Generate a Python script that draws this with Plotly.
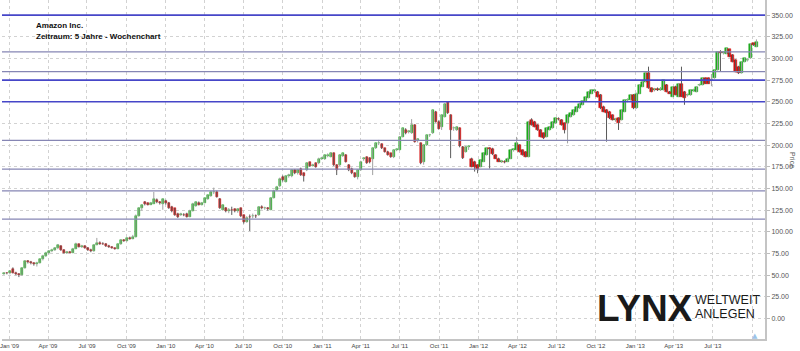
import plotly.graph_objects as go
import pandas as pd

# Weekly candles (Friday dates), Amazon Inc., Dec 2008 - Oct 2013
start_date = "2008-12-19"

opens = [
    51.5, 52.5, 52.0, 57.5, 53.0, 51.5, 50.0, 58.0, 66.0, 65.5,
    64.0, 62.5, 64.5, 68.5, 72.0, 75.5, 78.0, 79.5, 81.0, 84.0,
    79.0, 76.0, 77.0, 76.0, 80.5, 86.0, 83.0, 83.5, 81.5, 79.0,
    77.5, 85.0, 87.5, 86.5, 86.5, 83.5, 82.5, 81.5, 80.5, 85.5,
    90.5, 89.5, 92.5, 92.0, 94.5, 118.5, 127.0, 134.5, 133.5, 131.5,
    132.5, 137.0, 134.0, 132.0, 136.0, 133.5, 129.0, 127.0, 121.0, 120.0,
    120.0, 121.0, 117.5, 124.0, 130.0, 133.5, 131.5, 133.5, 138.0, 141.0,
    145.5, 146.0, 138.0, 125.5, 127.0, 124.5, 125.5, 126.0, 123.5, 127.0,
    119.0, 111.5, 117.5, 118.0, 118.5, 119.0, 129.0, 127.5, 127.0, 125.5,
    139.0, 148.0, 152.5, 163.5, 158.0, 164.0, 164.0, 171.0, 167.5, 173.0,
    167.5, 171.0, 180.0, 176.5, 179.0, 179.0, 184.5, 184.0, 187.0, 186.5,
    190.5, 177.0, 177.0, 187.5, 188.5, 177.0, 173.0, 167.5, 163.5, 171.0,
    184.5, 186.0, 185.0, 184.5, 196.5, 202.0, 201.0, 196.5, 192.5, 190.5,
    186.0, 194.5, 194.5, 209.5, 218.0, 215.5, 213.5, 223.0, 206.0, 202.0,
    181.0, 200.0, 211.5, 213.5, 238.5, 227.0, 221.0, 233.0, 250.0, 234.5,
    219.5, 217.5, 219.5, 198.0, 192.5, 198.0, 184.5, 181.0, 177.0, 175.0,
    181.0, 188.5, 196.5, 196.0, 188.5, 184.5, 181.0, 181.0, 181.0, 184.5,
    194.5, 194.5, 200.0, 194.5, 192.5, 186.5, 229.0, 227.0, 223.0, 217.5,
    213.5, 209.5, 217.5, 219.5, 225.0, 230.5, 229.0, 225.0, 225.0, 233.0,
    234.5, 238.5, 242.5, 246.5, 251.0, 254.5, 259.5, 262.5, 261.5, 258.0,
    244.5, 240.5, 238.5, 234.5, 229.0, 231.0, 229.0, 238.5, 252.0, 252.0,
    258.0, 242.5, 259.5, 267.5, 273.0, 283.0, 265.5, 264.0, 264.5, 264.0,
    263.5, 269.5, 261.5, 256.0, 267.5, 256.0, 271.0, 261.5, 257.5, 257.5,
    263.0, 261.5, 269.0, 269.5, 277.0, 277.0, 275.0, 277.0, 286.5, 308.0,
    306.5, 305.5, 310.5, 304.0, 298.0, 290.5, 283.0, 296.0, 298.0, 300.0,
    317.5, 313.5,
]

highs = [
    53.5, 53.5, 55.5, 59.0, 54.0, 52.5, 59.0, 67.5, 67.5, 66.5,
    65.0, 65.5, 69.0, 73.5, 77.0, 79.0, 80.5, 82.5, 86.0, 84.5,
    80.0, 78.0, 78.0, 81.5, 87.5, 86.5, 85.0, 84.5, 82.5, 80.5,
    86.0, 93.0, 89.0, 88.0, 87.0, 85.0, 83.5, 82.0, 86.5, 91.5,
    91.5, 93.5, 94.5, 96.5, 120.0, 128.0, 131.5, 135.5, 134.0, 134.5,
    146.0, 138.5, 135.5, 138.5, 137.0, 134.5, 130.0, 127.5, 122.0, 122.0,
    121.5, 122.0, 125.5, 133.5, 135.0, 135.0, 134.5, 139.5, 143.0, 146.5,
    151.0, 147.5, 139.0, 131.5, 128.5, 127.5, 129.0, 127.0, 127.5, 128.0,
    120.0, 118.0, 120.0, 121.0, 120.0, 129.5, 130.5, 129.0, 128.5, 139.5,
    148.5, 153.0, 162.5, 165.0, 165.5, 167.0, 172.0, 172.5, 172.0, 174.0,
    168.5, 180.0, 181.0, 178.5, 180.0, 185.5, 186.5, 189.5, 190.5, 192.0,
    191.5, 178.0, 189.5, 191.0, 189.5, 178.0, 174.0, 168.5, 171.5, 182.0,
    186.0, 187.0, 186.0, 197.0, 202.5, 206.0, 202.0, 197.0, 193.5, 191.0,
    195.0, 196.0, 210.5, 220.0, 219.5, 217.5, 230.0, 224.0, 208.0, 203.0,
    200.5, 212.0, 213.0, 241.0, 239.5, 228.5, 235.5, 248.5, 250.5, 235.5,
    221.5, 222.0, 220.5, 199.0, 199.0, 199.5, 185.5, 182.0, 178.0, 183.5,
    191.0, 197.0, 197.5, 197.0, 189.5, 185.5, 183.0, 182.5, 185.5, 195.0,
    196.0, 209.5, 201.0, 195.0, 193.0, 228.0, 231.0, 228.0, 224.0, 218.5,
    214.5, 220.0, 222.0, 227.5, 231.5, 232.0, 230.0, 226.0, 235.5, 237.5,
    241.0, 245.0, 249.0, 251.5, 255.5, 262.0, 264.5, 265.0, 262.5, 259.0,
    245.5, 241.5, 239.5, 235.5, 231.5, 232.0, 241.0, 252.5, 254.0, 258.5,
    259.0, 260.5, 270.0, 274.0, 283.5, 290.5, 266.5, 266.0, 266.5, 267.0,
    276.0, 270.5, 262.5, 267.0, 268.5, 271.5, 290.5, 262.5, 259.5, 264.0,
    265.0, 268.0, 271.0, 277.5, 278.0, 278.0, 282.0, 287.0, 308.5, 309.5,
    308.0, 312.0, 311.0, 305.0, 299.0, 291.5, 296.5, 300.5, 300.0, 317.5,
    318.0, 322.0,
]

lows = [
    50.5, 51.0, 51.0, 52.0, 50.0, 47.8, 49.5, 57.5, 63.5, 62.5,
    61.0, 60.0, 63.5, 67.0, 71.0, 74.0, 76.5, 78.0, 80.0, 78.0,
    75.0, 74.5, 75.5, 75.5, 80.0, 82.0, 81.5, 80.5, 78.0, 76.5,
    77.0, 84.5, 85.0, 85.0, 82.5, 81.5, 80.5, 79.5, 80.0, 85.0,
    88.5, 89.0, 91.0, 91.5, 93.5, 117.5, 124.5, 130.5, 130.5, 131.0,
    132.0, 133.0, 131.5, 125.5, 131.5, 126.5, 122.5, 118.5, 116.0, 118.5,
    118.0, 116.5, 117.0, 123.5, 129.0, 130.5, 130.5, 133.0, 137.0, 140.5,
    143.5, 139.5, 126.5, 124.5, 122.5, 121.5, 119.5, 122.5, 122.0, 117.0,
    109.5, 110.5, 101.0, 115.5, 116.0, 118.5, 126.0, 125.5, 124.5, 125.0,
    138.5, 147.0, 151.5, 158.0, 157.0, 162.5, 163.0, 166.5, 166.0, 164.5,
    158.0, 170.0, 175.0, 175.5, 174.0, 178.0, 183.0, 183.0, 186.0, 186.0,
    176.0, 165.5, 176.0, 186.5, 180.0, 170.0, 166.5, 162.5, 160.5, 170.5,
    182.0, 178.5, 179.0, 165.5, 195.5, 200.0, 195.5, 191.5, 188.0, 185.5,
    185.0, 193.0, 194.0, 209.0, 212.5, 213.5, 213.0, 203.0, 203.0, 178.0,
    177.5, 199.0, 209.5, 213.0, 226.0, 218.0, 217.5, 232.0, 236.0, 185.0,
    216.5, 216.5, 197.5, 184.0, 191.5, 194.5, 174.5, 169.5, 167.5, 174.5,
    180.5, 188.0, 173.0, 188.5, 184.0, 180.5, 179.5, 179.0, 180.5, 184.0,
    192.5, 194.0, 191.5, 188.0, 186.0, 186.0, 222.5, 220.5, 216.5, 209.0,
    207.0, 209.0, 217.0, 219.0, 224.5, 228.5, 222.5, 213.5, 202.0, 232.0,
    234.0, 238.0, 242.0, 246.0, 250.0, 254.0, 259.0, 260.5, 255.0, 241.5,
    238.0, 204.0, 230.0, 228.5, 227.0, 217.5, 228.5, 238.0, 249.5, 251.5,
    241.5, 242.0, 259.0, 267.0, 272.5, 265.0, 261.0, 262.0, 262.5, 262.5,
    263.0, 261.0, 259.0, 255.5, 257.5, 255.5, 255.5, 246.5, 256.0, 257.0,
    261.5, 261.0, 268.0, 269.0, 270.5, 270.5, 268.0, 276.5, 286.0, 284.5,
    304.5, 305.0, 301.5, 295.5, 284.0, 282.0, 282.5, 295.5, 296.5, 299.5,
    314.5, 313.0,
]

closes = [
    52.5, 52.0, 54.5, 53.0, 51.0, 50.0, 58.0, 66.5, 65.5, 64.0,
    62.5, 64.5, 68.5, 72.0, 75.5, 78.0, 79.5, 81.0, 84.5, 79.0,
    76.0, 76.5, 76.0, 80.5, 86.0, 83.0, 83.5, 81.5, 79.0, 77.5,
    85.0, 87.5, 86.5, 86.0, 83.5, 82.5, 81.5, 80.5, 85.5, 90.5,
    89.5, 92.5, 92.0, 94.5, 118.5, 127.0, 130.5, 132.0, 131.5, 133.5,
    137.5, 134.0, 133.0, 137.5, 133.0, 128.0, 124.0, 119.5, 117.5, 120.5,
    119.5, 117.5, 124.5, 132.5, 134.0, 131.5, 133.5, 138.5, 142.0, 145.5,
    146.0, 140.5, 128.0, 130.5, 123.5, 125.0, 125.0, 124.0, 126.5, 118.0,
    111.0, 116.5, 117.0, 118.5, 118.0, 128.5, 127.0, 128.0, 126.5, 138.5,
    147.5, 152.0, 161.5, 159.5, 164.5, 166.0, 171.0, 167.5, 171.0, 165.5,
    164.0, 179.0, 176.0, 177.0, 175.0, 184.5, 185.0, 188.5, 189.0, 190.5,
    177.0, 171.5, 188.5, 190.5, 181.0, 171.5, 167.5, 163.5, 171.0, 181.0,
    185.0, 179.0, 180.0, 196.5, 202.0, 202.8, 196.5, 192.5, 188.5, 186.5,
    194.5, 195.0, 209.5, 219.5, 213.5, 216.0, 223.0, 204.0, 206.6, 179.0,
    200.0, 211.5, 212.0, 240.5, 227.0, 219.0, 234.5, 248.0, 236.5, 217.5,
    220.0, 221.0, 198.5, 185.0, 198.0, 198.5, 175.0, 175.0, 173.0, 183.0,
    190.5, 196.5, 196.0, 189.5, 184.5, 181.0, 181.6, 180.4, 184.5, 194.5,
    195.1, 202.0, 192.5, 188.5, 186.5, 227.0, 223.0, 221.5, 217.5, 209.5,
    208.0, 219.5, 221.5, 227.0, 231.0, 230.0, 223.0, 217.5, 234.5, 236.5,
    240.5, 244.5, 248.0, 251.0, 255.0, 261.5, 263.5, 263.1, 256.0, 242.5,
    238.5, 236.5, 231.0, 229.0, 229.6, 225.0, 240.5, 252.0, 252.6, 258.0,
    242.5, 259.5, 269.5, 273.0, 283.0, 265.5, 261.5, 264.5, 264.0, 265.0,
    275.0, 261.5, 259.5, 266.5, 258.0, 271.0, 256.0, 254.0, 258.0, 263.5,
    263.6, 267.5, 269.5, 277.0, 271.0, 271.0, 275.5, 286.5, 308.0, 306.0,
    307.1, 311.5, 302.0, 296.0, 284.5, 283.0, 296.0, 300.0, 298.5, 317.0,
    315.5, 319.0,
]

# Support / resistance levels drawn across the chart
strong_levels = [350.0, 275.0, 250.0]
weak_levels = [307.6, 284.8, 205.4, 172.3, 147.3, 114.7]

# Quarterly x ticks (the last one carries a gridline but no label)
tick_dates = pd.date_range("2009-01-01", "2013-10-01", freq="3MS")
tick_labels = [d.strftime("%b '%y") for d in tick_dates[:-1]] + [""]

title_line1 = "Amazon Inc."
title_line2 = "Zeitraum: 5 Jahre - Wochenchart"
y_title = "Price"

n = min(len(opens), len(highs), len(lows), len(closes))
dates = pd.date_range(start_date, periods=n, freq="7D")

GREEN = "#1aa81a"
RED = "#d40e0e"
WICK_UP = "#a0a0a0"
WICK_DN = "#5a5a5a"

up_x, up_base, up_h = [], [], []
dn_x, dn_base, dn_h = [], [], []
wu_x, wu_y, wd_x, wd_y = [], [], [], []
for d, o, h, l, c in zip(dates, opens[:n], highs[:n], lows[:n], closes[:n]):
    if c >= o:
        up_x.append(d); up_base.append(o); up_h.append(c - o)
        wu_x += [d, d, None]; wu_y += [l, h, None]
    else:
        dn_x.append(d); dn_base.append(c); dn_h.append(o - c)
        wd_x += [d, d, None]; wd_y += [l, h, None]

fig = go.Figure()
fig.add_trace(go.Scatter(x=wu_x, y=wu_y, mode="lines", line=dict(color=WICK_UP, width=1),
                         hoverinfo="skip", showlegend=False))
fig.add_trace(go.Scatter(x=wd_x, y=wd_y, mode="lines", line=dict(color=WICK_DN, width=1),
                         hoverinfo="skip", showlegend=False))
bw = 5.2 * 86400000
fig.add_trace(go.Bar(x=up_x, y=up_h, base=up_base, width=bw,
                     marker=dict(color=GREEN, line=dict(color=GREEN, width=0.5)), showlegend=False))
fig.add_trace(go.Bar(x=dn_x, y=dn_h, base=dn_base, width=bw,
                     marker=dict(color=RED, line=dict(color=RED, width=0.5)), showlegend=False))

shapes = []
for lv in weak_levels:
    shapes.append(dict(type="line", xref="paper", x0=0, x1=1, yref="y", y0=lv, y1=lv,
                       line=dict(color="#8686b4", width=1.2), layer="above"))
for lv in strong_levels:
    shapes.append(dict(type="line", xref="paper", x0=0, x1=1, yref="y", y0=lv, y1=lv,
                       line=dict(color="#4646c8", width=1.6), layer="above"))

W, H = 800, 351
PL, PR, PT, PB = 0, 35, 0, 12
pw, ph = W - PL - PR, H - PT - PB

def px(x):
    return (x - PL) / pw

def py(y):
    return 1 - (y - PT) / ph

base_font = "Liberation Sans, Arial, sans-serif"
narrow = "Liberation Sans Narrow, Arial Narrow, Liberation Sans, sans-serif"

annotations = [
    dict(text="<b>" + title_line1 + "</b>", x=px(32), y=py(25.5), xref="paper", yref="paper",
         xanchor="left", yanchor="middle", showarrow=False, font=dict(family=base_font, size=8, color="#111")),
    dict(text="<b>" + title_line2 + "</b>", x=px(32), y=py(36.5), xref="paper", yref="paper",
         xanchor="left", yanchor="middle", showarrow=False, font=dict(family=base_font, size=8, color="#111")),
    dict(text="<b>LYNX</b>", x=px(596), y=py(308), xref="paper", yref="paper",
         xanchor="left", yanchor="middle", showarrow=False, borderpad=0,
         font=dict(family=narrow, size=37, color="#1a1a1a")),
    dict(text="WELTWEIT", x=px(694), y=py(300), xref="paper", yref="paper",
         xanchor="left", yanchor="middle", showarrow=False, borderpad=0,
         font=dict(family=narrow, size=12.5, color="#1a1a1a")),
    dict(text="ANLEGEN", x=px(694), y=py(314), xref="paper", yref="paper",
         xanchor="left", yanchor="middle", showarrow=False, borderpad=0,
         font=dict(family=narrow, size=12.5, color="#1a1a1a")),
    dict(text=y_title, x=px(793), y=py(160), xref="paper", yref="paper", textangle=90,
         xanchor="center", yanchor="middle", showarrow=False, font=dict(family=base_font, size=7, color="#555")),
    dict(text="▲", x=px(755), y=py(336), xref="paper", yref="paper",
         xanchor="center", yanchor="middle", showarrow=False, font=dict(family="DejaVu Sans", size=7, color="#9cc3e8")),
]

fig.update_layout(
    width=W, height=H,
    margin=dict(l=PL, r=PR, t=PT, b=PB, pad=0),
    plot_bgcolor="white", paper_bgcolor="white",
    barmode="overlay", bargap=0,
    showlegend=False,
    shapes=shapes,
    annotations=annotations,
    xaxis=dict(
        type="date", range=["2008-12-14 14:00", "2013-10-31"],
        tickmode="array", tickvals=list(tick_dates), ticktext=tick_labels,
        ticklabeloverflow="allow",
        showgrid=True, gridcolor="#d2d2d2", griddash="dot", gridwidth=1,
        showline=True, linecolor="#c4c4c4", linewidth=2,
        ticks="", tickfont=dict(family=base_font, size=6, color="#444"),
        zeroline=False, fixedrange=True, rangeslider=dict(visible=False),
    ),
    yaxis=dict(
        side="right", range=[-23.6, 367.4], tick0=0, dtick=25, tickformat=".2f",
        showgrid=True, gridcolor="#d2d2d2", griddash="dot", gridwidth=1,
        showline=True, linecolor="#c4c4c4", linewidth=2,
        ticks="outside", ticklen=3, tickcolor="#bdbdbd",
        tickfont=dict(family=base_font, size=7, color="#555"),
        zeroline=False, fixedrange=True,
    ),
)

fig.write_html("out.html")
